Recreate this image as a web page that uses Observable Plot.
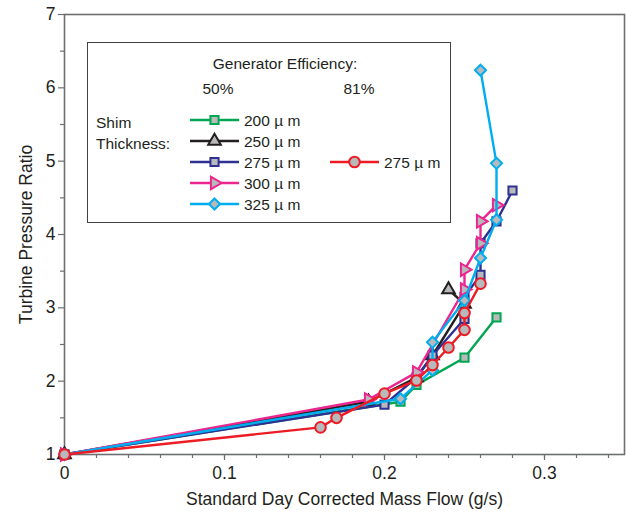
<!DOCTYPE html>
<html>
<head>
<meta charset="utf-8">
<script src="https://cdn.jsdelivr.net/npm/d3@7"></script>
<script src="https://cdn.jsdelivr.net/npm/@observablehq/plot@0.6"></script>
<style>
  html, body { margin: 0; padding: 0; background: #fff; }
  #chart { position: relative; width: 626px; height: 513px; }
</style>
</head>
<body>
<div id="chart"></div>
<script>
// ---- data ----
const s200X = [0, 0.21, 0.22, 0.25, 0.27];
const s200Y = [1, 1.72, 1.95, 2.32, 2.87];

const s250X = [0, 0.19, 0.22, 0.23, 0.25, 0.24];
const s250Y = [1, 1.72, 2.05, 2.35, 3.05, 3.25];

const s275X = [0, 0.20, 0.22, 0.23, 0.25, 0.25, 0.26, 0.26, 0.27, 0.28];
const s275Y = [1, 1.68, 2.05, 2.35, 2.85, 3.15, 3.45, 3.88, 4.18, 4.60];

const s300X = [0, 0.19, 0.22, 0.25, 0.25, 0.26, 0.26, 0.27];
const s300Y = [1, 1.75, 2.12, 3.25, 3.52, 3.88, 4.18, 4.40];

const s325X = [0, 0.21, 0.23, 0.23, 0.25, 0.26, 0.27, 0.27, 0.26];
const s325Y = [1, 1.76, 2.15, 2.53, 3.10, 3.68, 4.20, 4.97, 6.24];

const e81X = [0, 0.16, 0.17, 0.20, 0.22, 0.23, 0.24, 0.25, 0.25, 0.26];
const e81Y = [1, 1.37, 1.50, 1.83, 2.01, 2.22, 2.46, 2.70, 2.93, 3.33];

const seriesNames = ["200 µ m", "250 µ m", "275 µ m", "300 µ m", "325 µ m", "275 µ m (81%)"];
const legendLabels = ["200 µ m", "250 µ m", "275 µ m", "300 µ m", "325 µ m", "275 µ m"];
const xMajorTicks = [0, 0.1, 0.2, 0.3];
const xMinorTicks = [0, 0.02, 0.04, 0.06, 0.08, 0.1, 0.12, 0.14, 0.16, 0.18, 0.2, 0.22, 0.24, 0.26, 0.28, 0.3, 0.32, 0.34];
const yMajorTicks = [1, 2, 3, 4, 5, 6, 7];
const yMinorTicks = [1.5, 2.5, 3.5, 4.5, 5.5, 6.5];

// ---- styles ----
const styles = [
  {color: "#00a651", symbol: "square", rotate: 0, r: 4.6},
  {color: "#231f20", symbol: "triangle", rotate: 0, r: 4.7},
  {color: "#2e3192", symbol: "square", rotate: 0, r: 4.6},
  {color: "#ec268f", symbol: "triangle", rotate: 90, r: 4.6},
  {color: "#00aeef", symbol: "diamond2", rotate: 0, r: 5.0},
  {color: "#ed1c24", symbol: "circle", rotate: 0, r: 5.3}
];
const xs = [s200X, s250X, s275X, s300X, s325X, e81X];
const ys = [s200Y, s250Y, s275Y, s300Y, s325Y, e81Y];
const table = xs.map((xa, i) => xa.map((x, j) => ({x, y: ys[i][j], s: seriesNames[i]})));

const FONT = "'Liberation Sans', Arial, Helvetica, sans-serif";
const fill = "#b8b9bb";
const marks = [];
marks.push(Plot.frame({stroke: "#6d6e71", strokeWidth: 1.6}));
marks.push(Plot.axisX({ticks: xMinorTicks, tickSize: 4, text: null, label: null, stroke: "#6d6e71", strokeWidth: 1.2}));
marks.push(Plot.axisX({ticks: xMajorTicks, tickSize: 6, label: null, stroke: "#6d6e71", strokeWidth: 1.2, tickPadding: 6,
  tickFormat: d => d === 0 ? "0" : d3.format(".1f")(d), fill: "#231f20", fontSize: 17.5}));
marks.push(Plot.axisY({ticks: yMinorTicks, tickSize: 4, text: null, label: null, stroke: "#6d6e71", strokeWidth: 1.2}));
marks.push(Plot.axisY({ticks: yMajorTicks, tickSize: 6, label: null, stroke: "#6d6e71", strokeWidth: 1.2, tickPadding: 3,
  tickFormat: d => String(d), fill: "#231f20", fontSize: 17.5}));
marks.push(Plot.text(["Standard Day Corrected Mass Flow (g/s)"], {frameAnchor: "bottom", textAnchor: "middle", dy: 50, text: d => d, fontSize: 17.5, fill: "#231f20"}));
marks.push(Plot.text(["Turbine Pressure Ratio"], {frameAnchor: "left", textAnchor: "middle", dx: -38, rotate: -90, text: d => d, fontSize: 17.5, fill: "#231f20"}));

table.forEach((rows, i) => {
  const st = styles[i];
  marks.push(Plot.line(rows, {x: "x", y: "y", stroke: st.color, strokeWidth: 2.4, curve: "linear"}));
  marks.push(Plot.dot(rows, {x: "x", y: "y", symbol: st.symbol, r: st.r, rotate: st.rotate, fill: fill, stroke: st.color, strokeWidth: 2}));
});

const plot = Plot.plot({
  width: 626, height: 513,
  marginLeft: 64, marginRight: 2, marginTop: 14, marginBottom: 59,
  style: {fontFamily: FONT, fontSize: "17px", background: "#fff", color: "#231f20"},
  x: {domain: [0, 0.35]},
  y: {domain: [1, 7]},
  marks
});
document.getElementById("chart").appendChild(plot);

// ---- legend (inside the plot area, drawn as an overlay group) ----
const svg = d3.select(plot);
const lg = svg.append("g").attr("font-family", FONT).attr("font-size", 15.5)
  .attr("fill", "#231f20").attr("text-anchor", "start");
lg.append("rect").attr("x", 87.5).attr("y", 42.5).attr("width", 363).attr("height", 180)
  .attr("fill", "#fff").attr("stroke", "#414042").attr("stroke-width", 1);
lg.append("text").attr("x", 285).attr("y", 69).attr("text-anchor", "middle").text("Generator Efficiency:");
lg.append("text").attr("x", 218).attr("y", 94).attr("text-anchor", "middle").text("50%");
lg.append("text").attr("x", 359).attr("y", 94).attr("text-anchor", "middle").text("81%");
lg.append("text").attr("x", 96).attr("y", 128).text("Shim");
lg.append("text").attr("x", 96).attr("y", 149).text("Thickness:");

const symMap = {square: d3.symbolSquare, triangle: d3.symbolTriangle, diamond2: d3.symbolDiamond2, circle: d3.symbolCircle};
const entries = [
  {i: 0, x0: 190, y: 120},
  {i: 1, x0: 190, y: 141},
  {i: 2, x0: 190, y: 162},
  {i: 3, x0: 190, y: 183},
  {i: 4, x0: 190, y: 204},
  {i: 5, x0: 330, y: 162}
];
entries.forEach(e => {
  const st = styles[e.i];
  lg.append("line").attr("x1", e.x0).attr("x2", e.x0 + 49).attr("y1", e.y).attr("y2", e.y)
    .attr("stroke", st.color).attr("stroke-width", 2.4);
  lg.append("path").attr("d", d3.symbol(symMap[st.symbol], Math.PI * st.r * st.r)())
    .attr("transform", `translate(${e.x0 + 24.5},${e.y}) rotate(${st.rotate})`)
    .attr("fill", fill).attr("stroke", st.color).attr("stroke-width", 2);
  lg.append("text").attr("x", e.x0 + 54).attr("y", e.y + 6).text(legendLabels[e.i]);
});
</script>
</body>
</html>
